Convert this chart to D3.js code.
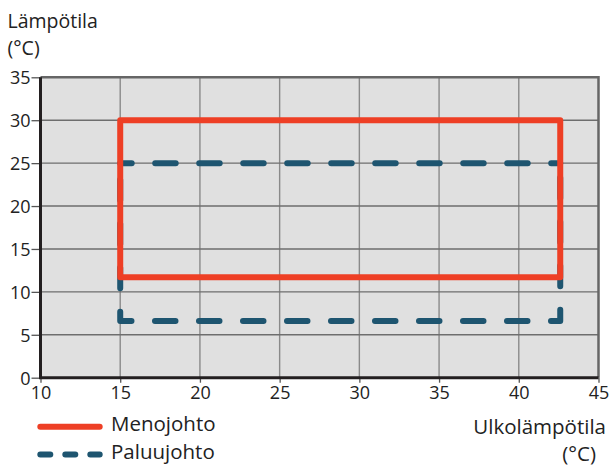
<!DOCTYPE html>
<html>
<head>
<meta charset="utf-8">
<script src="https://cdn.jsdelivr.net/npm/d3@7"></script>
<style>
  html, body { margin: 0; padding: 0; background: #ffffff; }
  svg { display: block; }
  text { font-family: "Open Sans", "Noto Sans", sans-serif; fill: #222222; }
</style>
</head>
<body>
<svg id="chart" width="612" height="465"></svg>
<script>
// Operating range of the heat pump: outdoor temperature (x) vs. water temperature (y)
const xTicks = [10, 15, 20, 25, 30, 35, 40, 45];
const yTicks = [0, 5, 10, 15, 20, 25, 30, 35];

// Supply line (Menojohto): outdoor range and water temperature range
const menoOutdoor = [15, 42.6];
const menoWater = [11.7, 30];

// Return line (Paluujohto): outdoor range and water temperature range
const paluuOutdoor = [15, 42.6];
const paluuWater = [6.6, 25];

const legendLabels = ["Menojohto", "Paluujohto"];
const yTitle = ["Lämpötila", "(°C)"];
const xTitle = ["Ulkolämpötila", "(°C)"];

const RED = "#ee3f25";
const BLUE = "#1e5570";

const svg = d3.select("#chart");
const plotL = 40.5, plotR = 598.5, plotT = 77.3, plotB = 377.7;

const x = d3.scaleLinear().domain([10, 45]).range([plotL, plotR]);
const y = d3.scaleLinear().domain([0, 35]).range([plotB, plotT]);

// Plot background
svg.append("rect")
  .attr("x", plotL).attr("y", plotT)
  .attr("width", plotR - plotL).attr("height", plotB - plotT)
  .attr("fill", "#e0e0e0");

// Grid lines
svg.append("g").selectAll("line").data(xTicks.slice(1, -1)).join("line")
  .attr("x1", d => x(d)).attr("x2", d => x(d))
  .attr("y1", plotT).attr("y2", plotB)
  .attr("stroke", "#8a8a8a").attr("stroke-width", 1.4);
svg.append("g").selectAll("line").data(yTicks.slice(1, -1)).join("line")
  .attr("y1", d => y(d)).attr("y2", d => y(d))
  .attr("x1", plotL).attr("x2", plotR)
  .attr("stroke", "#6e6e6e").attr("stroke-width", 1.4);

// Top and right frame
svg.append("path")
  .attr("d", `M${plotL},${plotT}H${plotR}V${plotB}`)
  .attr("fill", "none").attr("stroke", "#666666").attr("stroke-width", 2.5);

// Axes
const xAxis = d3.axisBottom(x).tickValues(xTicks).tickSize(5).tickPadding(3).tickFormat(d3.format("d"));
const yAxis = d3.axisLeft(y).tickValues(yTicks).tickSize(9).tickPadding(1).tickFormat(d3.format("d"));

const gx = svg.append("g").attr("transform", `translate(0,${plotB})`).call(xAxis);
const gy = svg.append("g").attr("transform", `translate(${plotL},0)`).call(yAxis);
[gx, gy].forEach(g => {
  g.select(".domain").remove();
  g.selectAll(".tick line").attr("stroke", "#555555").attr("stroke-width", 1.3);
  g.selectAll(".tick text")
    .attr("font-family", "'Open Sans', sans-serif")
    .attr("font-size", 18).attr("fill", "#222222");
});
gy.selectAll(".tick text").attr("dy", "0.36em");
gx.selectAll(".tick text").attr("dy", "0.72em");

// Axis lines (left and bottom, heavy)
svg.append("path")
  .attr("d", `M${plotL},${plotT}V${plotB}H${plotR}`)
  .attr("fill", "none").attr("stroke", "#231f20").attr("stroke-width", 3);

const line = d3.line().x(d => x(d[0])).y(d => y(d[1]));

// Return line: dashed rectangle, drawn as top edge + U-shaped remainder
const [px0, px1] = paluuOutdoor;
const [pw0, pw1] = paluuWater;
svg.append("path")
  .datum([[px0, pw1], [px1, pw1]])
  .attr("d", line)
  .attr("fill", "none").attr("stroke", BLUE).attr("stroke-width", 6)
  .attr("stroke-linecap", "round").attr("stroke-linejoin", "round")
  .attr("stroke-dasharray", "20.5,23.5").attr("stroke-dashoffset", 9);
svg.append("path")
  .datum([[px0, pw1], [px0, pw0], [px1, pw0], [px1, pw1]])
  .attr("d", line)
  .attr("fill", "none").attr("stroke", BLUE).attr("stroke-width", 6)
  .attr("stroke-linecap", "round").attr("stroke-linejoin", "round")
  .attr("stroke-dasharray", "20.5,23.5").attr("stroke-dashoffset", 27.3);

// Supply line: solid rectangle
const [mx0, mx1] = menoOutdoor;
const [mw0, mw1] = menoWater;
svg.append("path")
  .datum([[mx0, mw1], [mx1, mw1], [mx1, mw0], [mx0, mw0], [mx0, mw1]])
  .attr("d", d => line(d) + "Z")
  .attr("fill", "none").attr("stroke", RED).attr("stroke-width", 6)
  .attr("stroke-linejoin", "round");

// Axis titles
svg.append("g").selectAll("text").data(yTitle).join("text")
  .attr("x", 7.5).attr("y", (d, i) => 28 + i * 27)
  .attr("font-size", 19.5).text(d => d);
svg.append("g").selectAll("text").data(xTitle).join("text")
  .attr("text-anchor", "end")
  .attr("x", (d, i) => i === 0 ? 606 : 596)
  .attr("y", (d, i) => 434 + i * 26.5)
  .attr("font-size", 20.5).text(d => d);

// Legend
const legend = svg.append("g");
const legendColors = [RED, BLUE];
const legendDash = [null, "10,15"];
legendLabels.forEach((label, i) => {
  const ly = 426.7 + i * 27.7;
  legend.append("line")
    .attr("x1", 40.3).attr("x2", 99.7).attr("y1", ly).attr("y2", ly)
    .attr("stroke", legendColors[i]).attr("stroke-width", 6)
    .attr("stroke-linecap", "round")
    .attr("stroke-dasharray", legendDash[i]);
  legend.append("text")
    .attr("x", 111).attr("y", ly + 4.3)
    .attr("font-size", 20.5).text(label);
});
</script>
</body>
</html>
